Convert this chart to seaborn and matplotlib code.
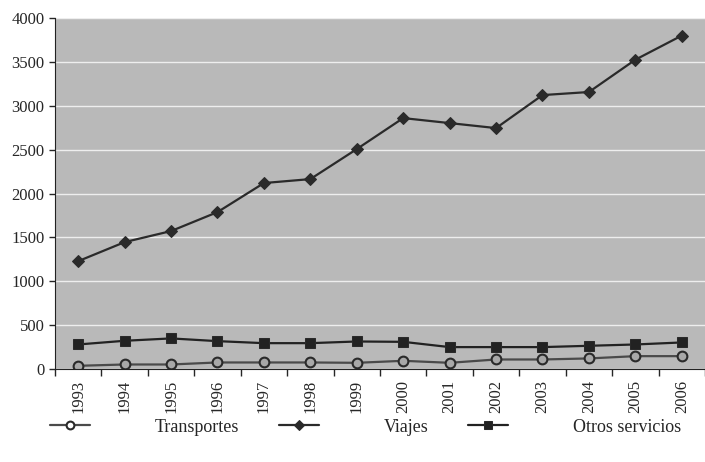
import pandas as pd
import numpy as np
import matplotlib
matplotlib.use("Agg")
import matplotlib.pyplot as plt
import seaborn as sns

years = [1993, 1994, 1995, 1996, 1997, 1998, 1999, 2000, 2001, 2002, 2003, 2004, 2005, 2006]
transportes = [38, 53, 53, 76, 76, 76, 72, 95, 72, 110, 110, 122, 148, 148]
viajes = [1230, 1447, 1573, 1789, 2120, 2165, 2507, 2860, 2803, 2746, 3122, 3157, 3525, 3800]
otros = [281, 323, 350, 319, 296, 296, 315, 311, 251, 251, 251, 266, 281, 304]
series_names = ["Transportes", "Viajes", "Otros servicios"]

df = pd.DataFrame({"Año": years, "Transportes": transportes,
                   "Viajes": viajes, "Otros servicios": otros})
long_df = df.melt(id_vars="Año", var_name="serie", value_name="valor")

sns.set_style("white", {"axes.facecolor": "#b9b9b9", "axes.grid": True,
                        "grid.color": "#f2f2f2", "axes.edgecolor": "#222222"})
plt.rcParams["font.family"] = ["Liberation Serif", "DejaVu Serif"]

fig = plt.figure(figsize=(7.05, 4.62), dpi=100)
ax = fig.add_axes([0.078, 0.201, 0.922, 0.760])

ax = sns.lineplot(data=long_df, x="Año", y="valor", hue="serie", style="serie",
                  hue_order=series_names, style_order=series_names,
                  palette=["#4a4a4a", "#2a2a2a", "#222222"],
                  markers={"Transportes": "o", "Viajes": "D", "Otros servicios": "s"},
                  dashes=False, linewidth=1.6, markersize=7, ax=ax)

for line in ax.lines:
    line.set_markeredgecolor("#2a2a2a")
    if line.get_marker() == "o":
        line.set_markerfacecolor("#a8a8a8")
        line.set_markeredgewidth(1.5)
    elif line.get_marker() == "D":
        line.set_markersize(6)

ax.set_xlim(1992.5, 2006.5)
ax.set_ylim(0, 4000)
ax.set_yticks(range(0, 4001, 500))
ax.set_xticks(years)
ax.set_xticklabels([str(y) for y in years], rotation=90, fontsize=12)
ax.set_xticks(np.arange(1992.5, 2007, 1), minor=True)
ax.tick_params(axis="x", which="major", length=0, pad=8)
ax.tick_params(axis="x", which="minor", length=5, width=1, direction="out", bottom=True)
ax.tick_params(axis="y", length=4, width=1, direction="out", left=True, labelsize=12)
ax.grid(axis="x", visible=False)
ax.grid(axis="y", color="#eeeeee", linewidth=1.0)
ax.spines["top"].set_visible(False)
ax.spines["right"].set_visible(False)
ax.set_xlabel("")
ax.set_ylabel("")

handles, labels = ax.get_legend_handles_labels()
leg = ax.legend(handles, labels, loc="center", bbox_to_anchor=(0.478, -0.165), ncol=3,
                frameon=False, fontsize=13, handlelength=2.2, handletextpad=3.6,
                columnspacing=2.2, markerscale=0.8)
for h in leg.legend_handles:
    h.set_markeredgecolor("#2a2a2a")
    if h.get_marker() == "o":
        h.set_markerfacecolor("#ffffff")

fig.savefig("out.png", dpi=100)
